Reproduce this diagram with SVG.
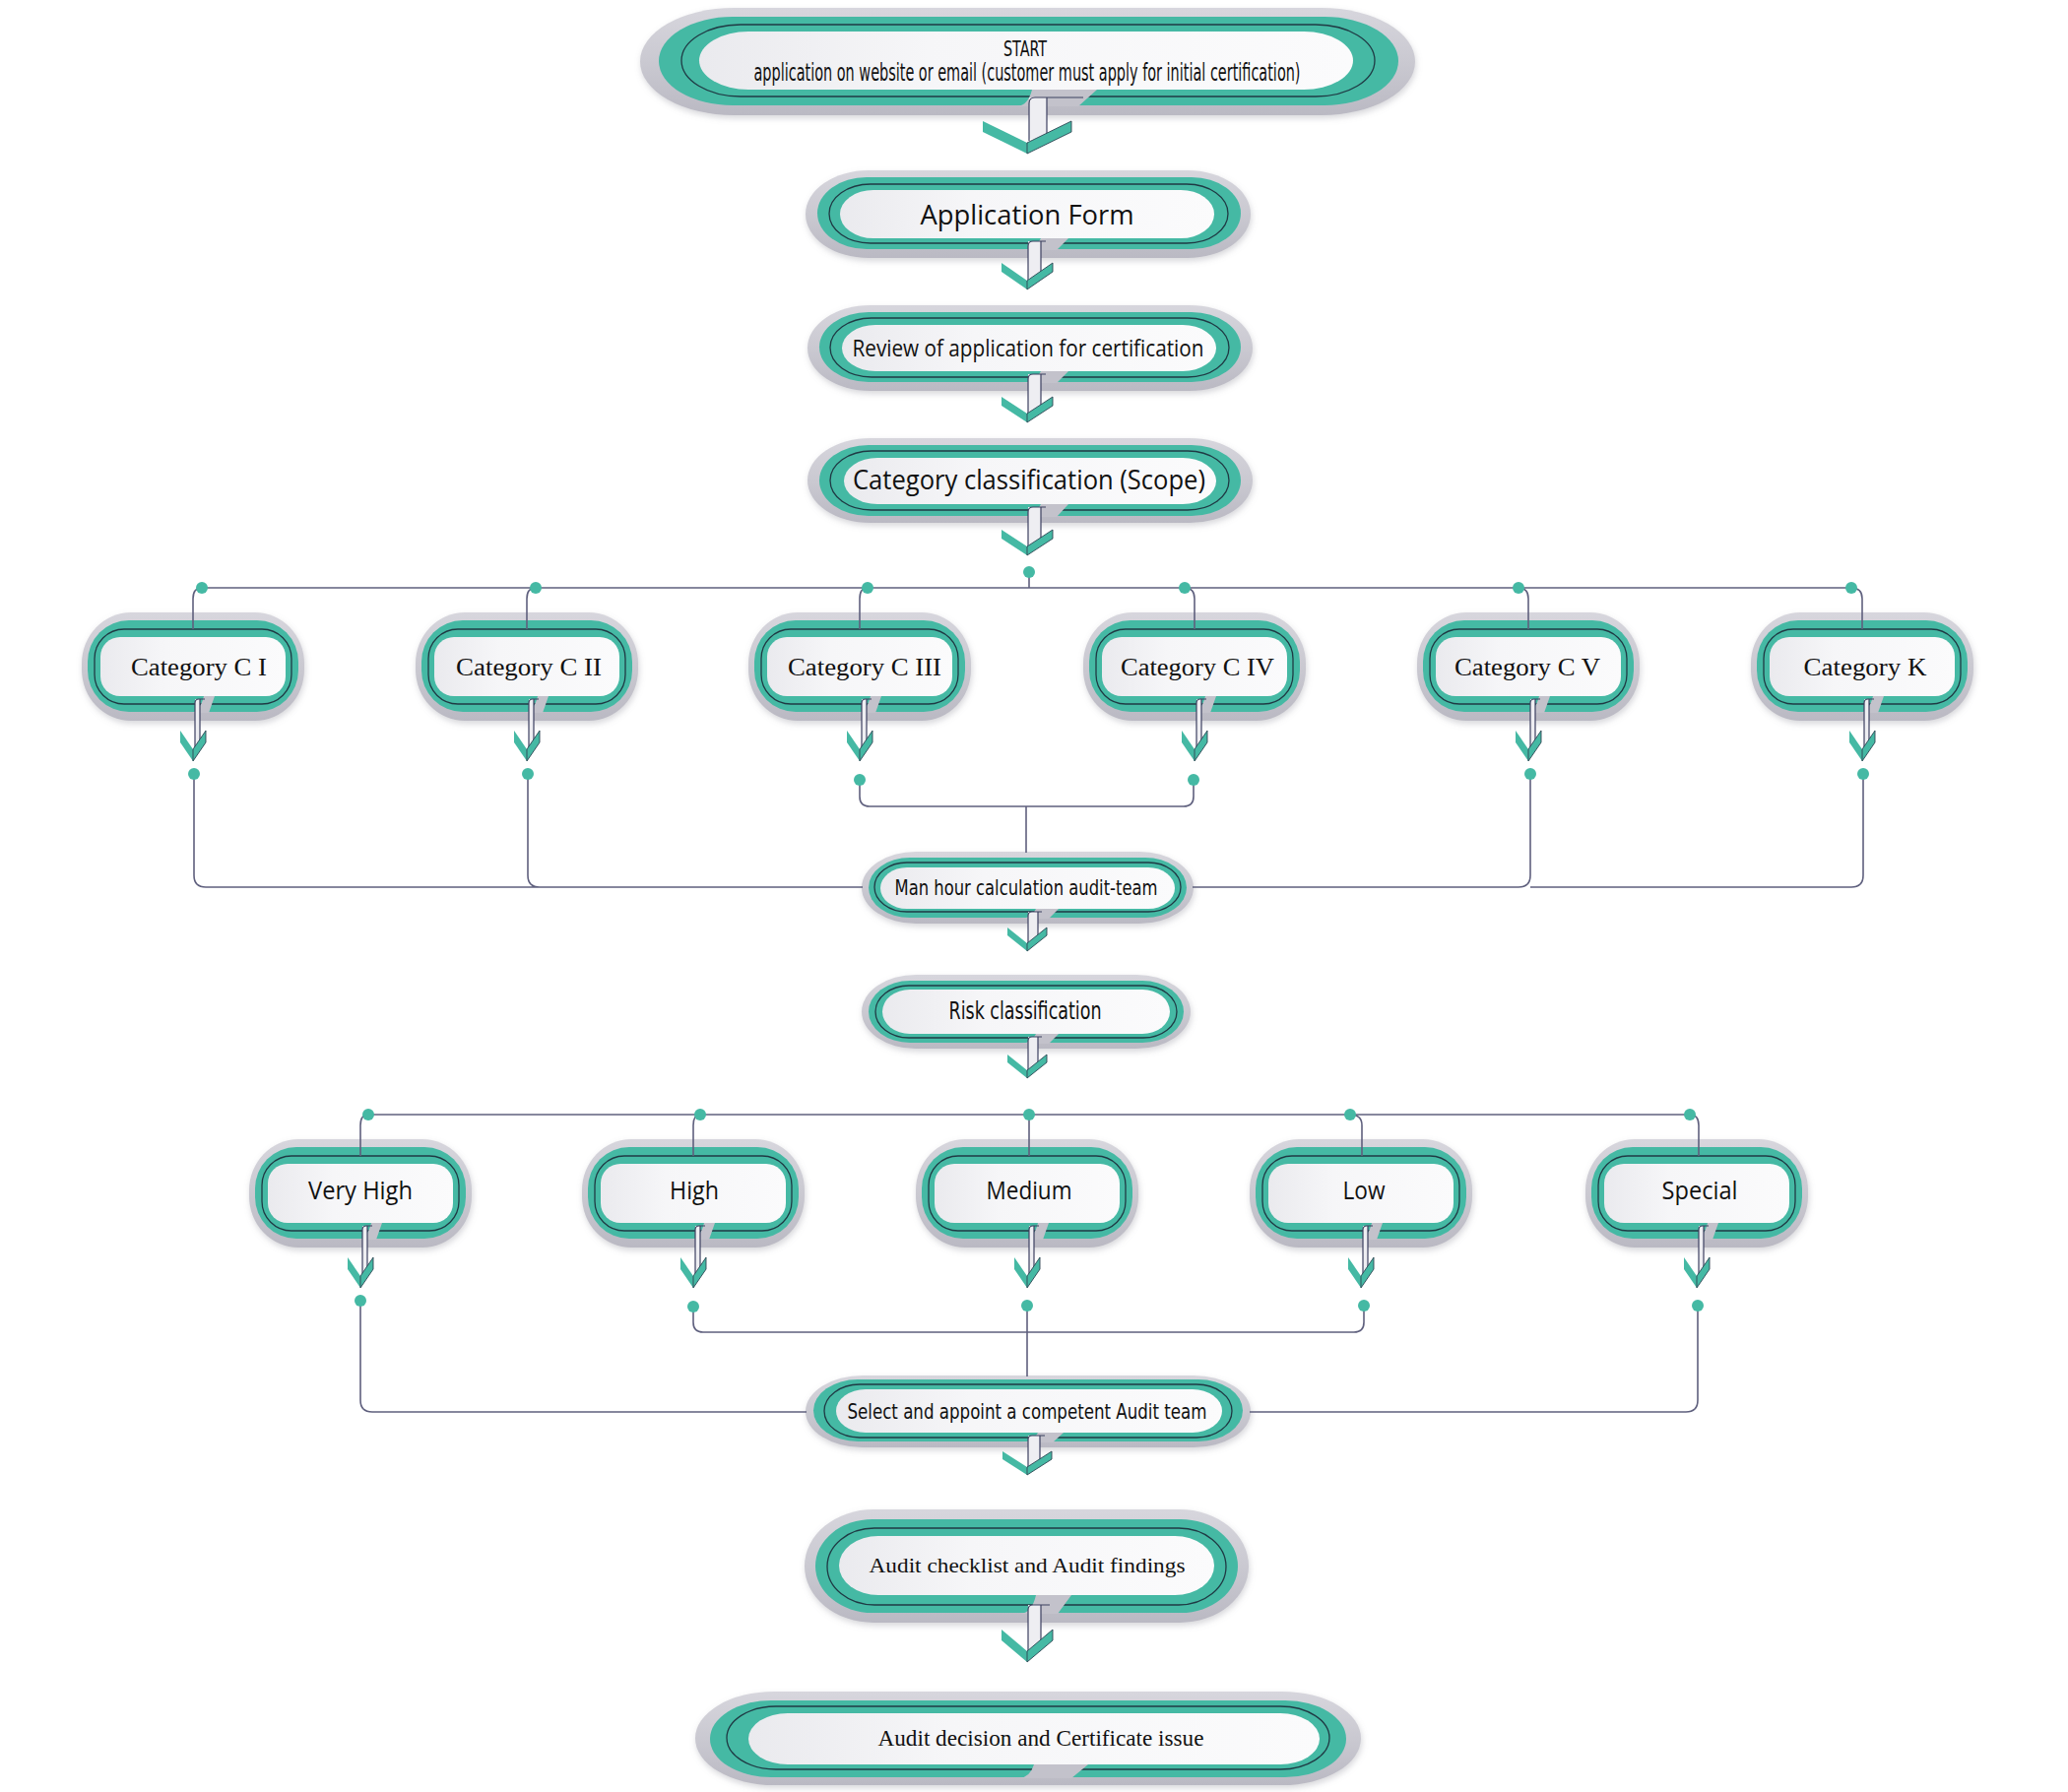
<svg xmlns="http://www.w3.org/2000/svg" xmlns:xlink="http://www.w3.org/1999/xlink" width="2100" height="1820" viewBox="0 0 2100 1820">
<style>
.outer{fill:url(#gGray);filter:url(#sh)}
.teal{fill:#45b9a4}
.ol{fill:none;stroke:#1f3a44;stroke-width:1.3}
.white{fill:url(#gWhite)}
.notch{fill:#c3c2cb}
.pipe{fill:#eeeef2}
.pl{fill:none;stroke:#3c4060;stroke-width:1.2}
.chl{fill:#45b9a4}
.chr{fill:#45b9a4;stroke:#2c4654;stroke-width:0.9}
.conn{fill:none;stroke:#5f607e;stroke-width:1.6}
.dot{fill:#45b9a4}
.tc{font-family:"Liberation Sans Narrow","DejaVu Sans Condensed","Open Sans",sans-serif;fill:#111;text-anchor:middle}
.ts{font-family:"Open Sans","Noto Sans",sans-serif;fill:#111;text-anchor:middle}
.tr{font-family:"Liberation Serif","DejaVu Serif",serif;fill:#111;text-anchor:middle}
</style>
<defs>
<filter id="sh" x="-10%" y="-20%" width="120%" height="150%"><feDropShadow dx="1" dy="3" stdDeviation="3" flood-color="#8a8a96" flood-opacity="0.35"/></filter>
<linearGradient id="gGray" x1="0" y1="0" x2="0" y2="1"><stop offset="0" stop-color="#d7d6dd"/><stop offset="0.5" stop-color="#cac9d1"/><stop offset="1" stop-color="#bab9c3"/></linearGradient>
<linearGradient id="gWhite" x1="0" y1="0" x2="1" y2="0"><stop offset="0" stop-color="#eaeaee"/><stop offset="0.35" stop-color="#f6f6f8"/><stop offset="1" stop-color="#fbfbfc"/></linearGradient>
<g id="nodeB">
<rect class="outer" x="0" y="0" width="226" height="110" rx="50" ry="52"/>
<rect class="teal" x="6" y="8" width="214" height="93" rx="42" ry="42"/>
<rect class="ol" x="13" y="17" width="200" height="76" rx="30" ry="30"/>
<rect class="white" x="19" y="25" width="188" height="60" rx="20" ry="20"/>
<path class="notch" d="M111 102 Q120 101 124 85 L135 85 L129 102 Z"/>
<rect class="pipe" x="115" y="88" width="5" height="50"/>
<path class="pl" d="M115 140 L115 92 Q115 88 119 88 L125 88 M120 88 L120 136"/>
<polygon class="chl" points="100,120 113,139 113,151 100,132"/>
<polygon class="chr" points="113,139 126,120 126,132 113,151"/>
</g>
</defs>
<rect width="2100" height="1820" fill="#ffffff"/>

<g id="n-start">
<rect class="outer" x="650" y="8" width="787" height="109" rx="95" ry="54.5"/>
<rect class="teal" x="669" y="17" width="751" height="90" rx="75" ry="45"/>
<rect class="ol" x="692" y="25" width="704" height="73" rx="60" ry="36.5"/>
<rect class="white" x="710" y="32" width="664" height="59" rx="50" ry="29.5"/>
<path class="notch" d="M1033 108 Q1044 107 1048 91 L1114 91 L1095 108 Z"/>
<rect class="pipe" x="1045" y="99" width="18" height="42"/>
<path class="pl" d="M1045 143 L1045 105 Q1045 99 1051 99 L1100 99 M1063 99 L1063 138"/>
<polygon class="chl" points="998,123 1043,145 1043,156 998,134"/>
<polygon class="chr" points="1043,145 1088,123 1088,134 1043,156"/>
<text class="tc" x="1041" y="57" font-size="22" textLength="44" lengthAdjust="spacingAndGlyphs">START</text>
<text class="tc" x="1043" y="82" font-size="24" textLength="555" lengthAdjust="spacingAndGlyphs">application on website or email (customer must apply for initial certification)</text>
</g>

<g id="n-appform">
<rect class="outer" x="818" y="173" width="452" height="89" rx="64" ry="44.5"/>
<rect class="teal" x="830" y="180" width="430" height="73" rx="50" ry="36.5"/>
<rect class="ol" x="842" y="187" width="405" height="60" rx="42" ry="30"/>
<rect class="white" x="853" y="193" width="380" height="49" rx="34" ry="24.5"/>
<path class="notch" d="M1038 254 Q1052 253 1057 242 L1085 242 L1073 254 Z"/>
<rect class="pipe" x="1044" y="245" width="13" height="37"/>
<path class="pl" d="M1044 284 L1044 250 Q1044 245 1049 245 L1062 245 M1057 245 L1057 279"/>
<polygon class="chl" points="1017,267 1043,285 1043,294 1017,276"/>
<polygon class="chr" points="1043,285 1069,267 1069,276 1043,294"/>
<text class="ts" x="1043" y="228" font-size="28" textLength="217" lengthAdjust="spacingAndGlyphs">Application Form</text>
</g>

<g id="n-review">
<rect class="outer" x="820" y="310" width="452" height="87" rx="64" ry="43.5"/>
<rect class="teal" x="832" y="317" width="428" height="71" rx="50" ry="35.5"/>
<rect class="ol" x="843" y="323" width="405" height="60" rx="42" ry="30"/>
<rect class="white" x="855" y="330" width="380" height="47" rx="34" ry="23.5"/>
<path class="notch" d="M1038 389 Q1052 388 1057 377 L1085 377 L1073 389 Z"/>
<rect class="pipe" x="1044" y="380" width="13" height="38"/>
<path class="pl" d="M1044 420 L1044 385 Q1044 380 1049 380 L1062 380 M1057 380 L1057 415"/>
<polygon class="chl" points="1017,403 1043,420 1043,429 1017,412"/>
<polygon class="chr" points="1043,420 1069,403 1069,412 1043,429"/>
<text class="ts" x="1044" y="362" font-size="23" textLength="357" lengthAdjust="spacingAndGlyphs">Review of application for certification</text>
</g>

<g id="n-catclass">
<rect class="outer" x="820" y="445" width="452" height="86" rx="64" ry="43"/>
<rect class="teal" x="832" y="452" width="428" height="72" rx="50" ry="36"/>
<rect class="ol" x="843" y="458" width="405" height="60" rx="42" ry="30"/>
<rect class="white" x="857" y="465" width="378" height="47" rx="34" ry="23.5"/>
<path class="notch" d="M1038 525 Q1052 524 1057 512 L1085 512 L1073 525 Z"/>
<rect class="pipe" x="1044" y="515" width="13" height="38"/>
<path class="pl" d="M1044 555 L1044 520 Q1044 515 1049 515 L1062 515 M1057 515 L1057 550"/>
<polygon class="chl" points="1017,538 1043,555 1043,564 1017,547"/>
<polygon class="chr" points="1043,555 1069,538 1069,547 1043,564"/>
<text class="ts" x="1045" y="497" font-size="28" textLength="358" lengthAdjust="spacingAndGlyphs">Category classification (Scope)</text>
</g>

<g id="n-c1"><use href="#nodeB" x="83" y="622"/><text class="tr" x="202" y="686" font-size="25" textLength="138" lengthAdjust="spacingAndGlyphs">Category C I</text></g>
<g id="n-c2"><use href="#nodeB" x="422" y="622"/><text class="tr" x="537" y="686" font-size="25" textLength="148" lengthAdjust="spacingAndGlyphs">Category C II</text></g>
<g id="n-c3"><use href="#nodeB" x="760" y="622"/><text class="tr" x="878" y="686" font-size="25" textLength="156" lengthAdjust="spacingAndGlyphs">Category C III</text></g>
<g id="n-c4"><use href="#nodeB" x="1100" y="622"/><text class="tr" x="1216" y="686" font-size="25" textLength="156" lengthAdjust="spacingAndGlyphs">Category C IV</text></g>
<g id="n-c5"><use href="#nodeB" x="1439" y="622"/><text class="tr" x="1551" y="686" font-size="25" textLength="148" lengthAdjust="spacingAndGlyphs">Category C V</text></g>
<g id="n-ck"><use href="#nodeB" x="1778" y="622"/><text class="tr" x="1894" y="686" font-size="25" textLength="125" lengthAdjust="spacingAndGlyphs">Category K</text></g>

<g id="n-manhour">
<rect class="outer" x="875" y="865" width="337" height="73" rx="55" ry="36.5"/>
<rect class="teal" x="882" y="871" width="323" height="61" rx="42" ry="30.5"/>
<rect class="ol" x="888" y="876" width="311" height="50" rx="33" ry="25"/>
<rect class="white" x="894" y="881" width="299" height="42" rx="27" ry="21"/>
<path class="notch" d="M1037 933 Q1048 932 1052 923 L1075 923 L1065 933 Z"/>
<rect class="pipe" x="1044" y="926" width="10" height="32"/>
<path class="pl" d="M1044 959 L1044 930 Q1044 926 1048 926 L1058 926 M1054 926 L1054 954"/>
<polygon class="chl" points="1023,942 1043,958 1043,966 1023,950"/>
<polygon class="chr" points="1043,958 1063,942 1063,950 1043,966"/>
<text class="tc" x="1042" y="909" font-size="22" textLength="267" lengthAdjust="spacingAndGlyphs">Man hour calculation audit-team</text>
</g>

<g id="n-riskclass">
<rect class="outer" x="875" y="990" width="334" height="75" rx="55" ry="37.5"/>
<rect class="teal" x="882" y="996" width="320" height="63" rx="42" ry="31.5"/>
<rect class="ol" x="889" y="1001" width="306" height="53" rx="34" ry="26.5"/>
<rect class="white" x="896" y="1005" width="292" height="45" rx="28" ry="22.5"/>
<path class="notch" d="M1037 1060 Q1048 1059 1052 1050 L1075 1050 L1065 1060 Z"/>
<rect class="pipe" x="1044" y="1053" width="10" height="34"/>
<path class="pl" d="M1044 1088 L1044 1057 Q1044 1053 1048 1053 L1058 1053 M1054 1053 L1054 1083"/>
<polygon class="chl" points="1023,1071 1043,1087 1043,1095 1023,1079"/>
<polygon class="chr" points="1043,1087 1063,1071 1063,1079 1043,1095"/>
<text class="tc" x="1041" y="1035" font-size="24" textLength="155" lengthAdjust="spacingAndGlyphs">Risk classification</text>
</g>

<g id="n-vh"><use href="#nodeB" x="253" y="1157"/><text class="ts" x="366" y="1218" font-size="25" textLength="106" lengthAdjust="spacingAndGlyphs">Very High</text></g>
<g id="n-high"><use href="#nodeB" x="591" y="1157"/><text class="ts" x="705" y="1218" font-size="25" textLength="50" lengthAdjust="spacingAndGlyphs">High</text></g>
<g id="n-medium"><use href="#nodeB" x="930" y="1157"/><text class="ts" x="1045" y="1218" font-size="25" textLength="87" lengthAdjust="spacingAndGlyphs">Medium</text></g>
<g id="n-low"><use href="#nodeB" x="1269" y="1157"/><text class="ts" x="1385" y="1218" font-size="25" textLength="43" lengthAdjust="spacingAndGlyphs">Low</text></g>
<g id="n-special"><use href="#nodeB" x="1610" y="1157"/><text class="ts" x="1726" y="1218" font-size="25" textLength="77" lengthAdjust="spacingAndGlyphs">Special</text></g>

<g id="n-select">
<rect class="outer" x="818" y="1397" width="452" height="73" rx="58" ry="36.5"/>
<rect class="teal" x="826" y="1401" width="436" height="63" rx="45" ry="31.5"/>
<rect class="ol" x="837" y="1406" width="414" height="54" rx="36" ry="27"/>
<rect class="white" x="849" y="1411" width="392" height="44" rx="30" ry="22"/>
<path class="notch" d="M1037 1465 Q1050 1464 1054 1455 L1080 1455 L1069 1465 Z"/>
<rect class="pipe" x="1044" y="1458" width="12" height="33"/>
<path class="pl" d="M1044 1492 L1044 1462 Q1044 1458 1048 1458 L1061 1458 M1056 1458 L1056 1486"/>
<polygon class="chl" points="1018,1474 1043,1490 1043,1498 1018,1482"/>
<polygon class="chr" points="1043,1490 1068,1474 1068,1482 1043,1498"/>
<text class="tc" x="1043" y="1441" font-size="22" textLength="365" lengthAdjust="spacingAndGlyphs">Select and appoint a competent Audit team</text>
</g>

<g id="n-checklist">
<rect class="outer" x="817" y="1533" width="451" height="115" rx="70" ry="57.5"/>
<rect class="teal" x="828" y="1543" width="429" height="95" rx="58" ry="47.5"/>
<rect class="ol" x="840" y="1552" width="405" height="78" rx="48" ry="39"/>
<rect class="white" x="852" y="1560" width="381" height="60" rx="40" ry="30"/>
<path class="notch" d="M1036 1639 Q1048 1638 1052 1620 L1088 1620 L1074 1639 Z"/>
<rect class="pipe" x="1044" y="1630" width="13" height="48"/>
<path class="pl" d="M1044 1678 L1044 1635 Q1044 1630 1049 1630 L1066 1630 M1057 1630 L1057 1670"/>
<polygon class="chl" points="1017,1655 1043,1677 1043,1688 1017,1666"/>
<polygon class="chr" points="1043,1677 1069,1655 1069,1666 1043,1688"/>
<text class="tr" x="1043" y="1597" font-size="22" textLength="321" lengthAdjust="spacingAndGlyphs">Audit checklist and Audit findings</text>
</g>

<g id="n-decision">
<rect class="outer" x="706" y="1718" width="676" height="95" rx="80" ry="47.5"/>
<rect class="teal" x="721" y="1727" width="646" height="78" rx="62" ry="39"/>
<rect class="ol" x="738" y="1733" width="612" height="64" rx="50" ry="32"/>
<rect class="white" x="760" y="1740" width="580" height="52" rx="40" ry="26"/>
<path class="notch" d="M1035 1806 Q1046 1805 1050 1792 L1105 1792 L1088 1806 Z"/>
<text class="tr" x="1057" y="1773" font-size="23" textLength="331" lengthAdjust="spacingAndGlyphs">Audit decision and Certificate issue</text>
</g>

<g id="connectors">
<path class="conn" d="M205 597 L1880 597 M1045 581 L1045 597"/>
<path class="conn" d="M205 597 Q196 597 196 608 L196 639 M544 597 Q535 597 535 608 L535 639 M881 597 Q873 597 873 608 L873 639 M1203 597 Q1213 597 1213 608 L1213 639 M1542 597 Q1552 597 1552 608 L1552 639 M1880 597 Q1891 597 1891 608 L1891 639"/>
<path class="conn" d="M197 786 L197 889 Q197 901 209 901 L876 901 M536 786 L536 889 Q536 901 548 901"/>
<path class="conn" d="M873 792 L873 809 Q873 819 883 819 L1202 819 Q1212 819 1212 809 L1212 792 M1042 819 L1042 866"/>
<path class="conn" d="M1554 786 L1554 889 Q1554 901 1542 901 L1211 901 M1892 786 L1892 889 Q1892 901 1880 901 L1554 901"/>
<path class="conn" d="M374 1132 L1716 1132"/>
<path class="conn" d="M374 1132 Q366 1132 366 1143 L366 1174 M711 1132 Q704 1132 704 1143 L704 1174 M1045 1132 L1045 1174 M1371 1132 Q1383 1132 1383 1143 L1383 1174 M1716 1132 Q1725 1132 1725 1143 L1725 1174"/>
<path class="conn" d="M704 1327 L704 1343 Q704 1353 714 1353 L1375 1353 Q1385 1353 1385 1343 L1385 1326 M1043 1326 L1043 1398"/>
<path class="conn" d="M366 1321 L366 1422 Q366 1434 378 1434 L819 1434 M1724 1326 L1724 1422 Q1724 1434 1712 1434 L1269 1434"/>
<circle class="dot" cx="1045" cy="581" r="6"/>
<circle class="dot" cx="205" cy="597" r="6"/>
<circle class="dot" cx="544" cy="597" r="6"/>
<circle class="dot" cx="881" cy="597" r="6"/>
<circle class="dot" cx="1203" cy="597" r="6"/>
<circle class="dot" cx="1542" cy="597" r="6"/>
<circle class="dot" cx="1880" cy="597" r="6"/>
<circle class="dot" cx="197" cy="786" r="6"/>
<circle class="dot" cx="536" cy="786" r="6"/>
<circle class="dot" cx="873" cy="792" r="6"/>
<circle class="dot" cx="1212" cy="792" r="6"/>
<circle class="dot" cx="1554" cy="786" r="6"/>
<circle class="dot" cx="1892" cy="786" r="6"/>
<circle class="dot" cx="374" cy="1132" r="6"/>
<circle class="dot" cx="711" cy="1132" r="6"/>
<circle class="dot" cx="1045" cy="1132" r="6"/>
<circle class="dot" cx="1371" cy="1132" r="6"/>
<circle class="dot" cx="1716" cy="1132" r="6"/>
<circle class="dot" cx="366" cy="1321" r="6"/>
<circle class="dot" cx="704" cy="1327" r="6"/>
<circle class="dot" cx="1043" cy="1326" r="6"/>
<circle class="dot" cx="1385" cy="1326" r="6"/>
<circle class="dot" cx="1724" cy="1326" r="6"/>
</g>
</svg>
